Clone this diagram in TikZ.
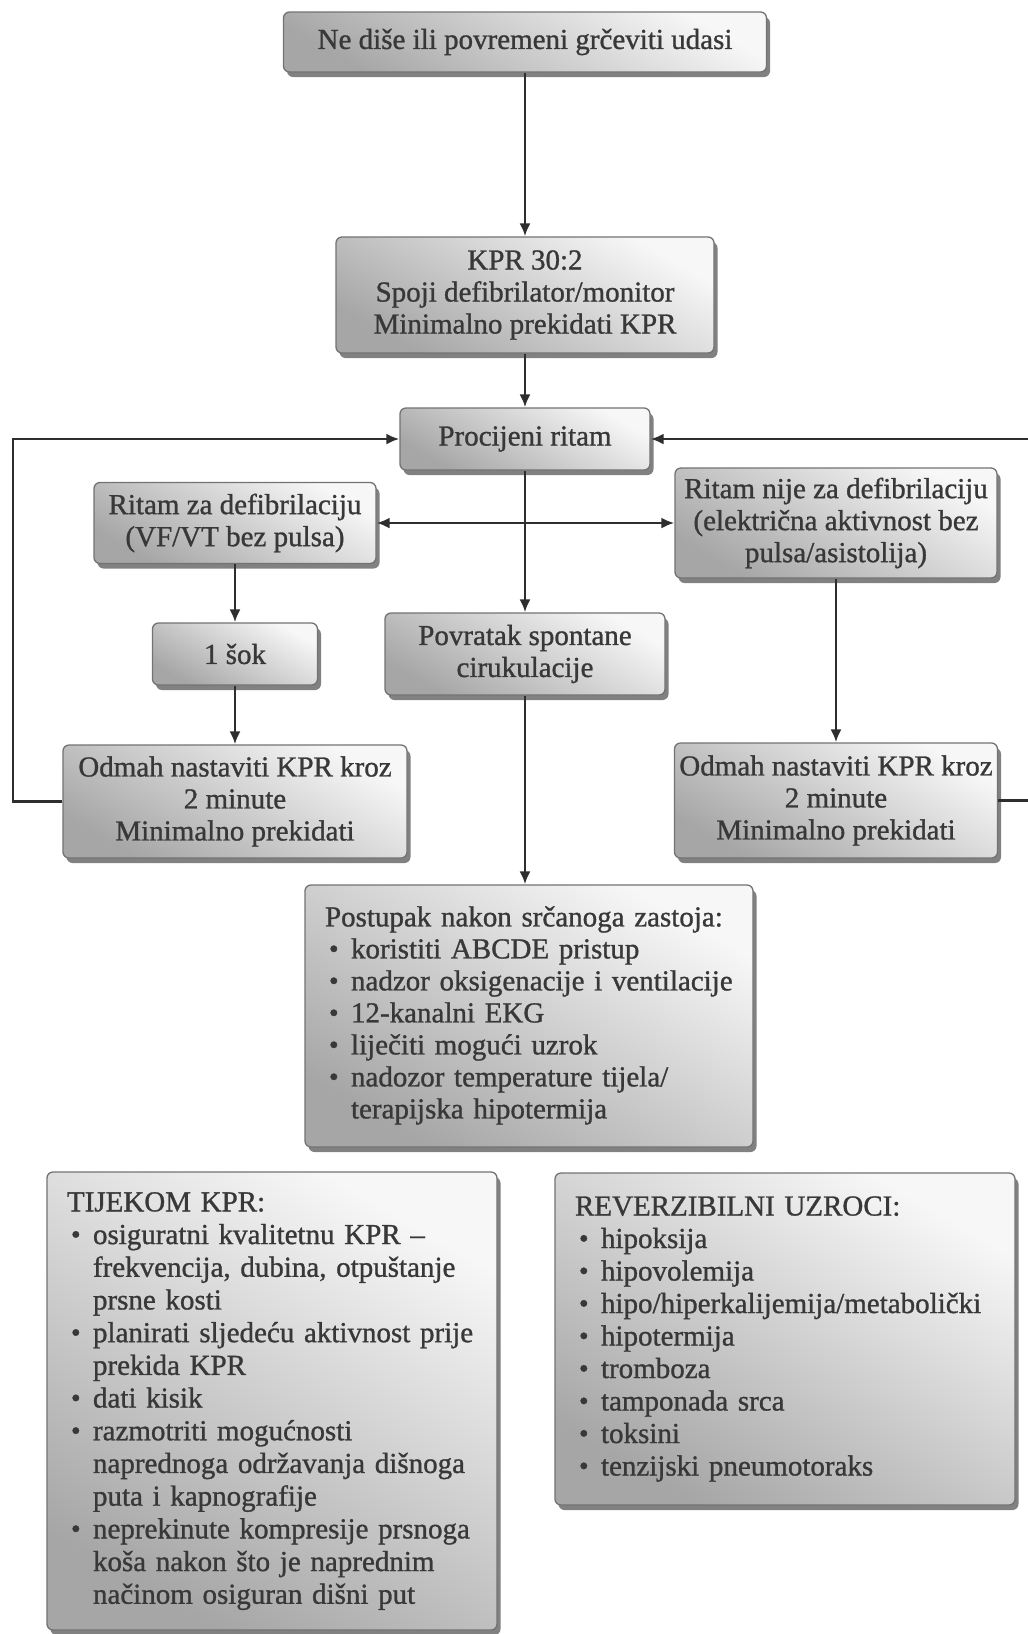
\documentclass[tikz,border=0pt]{standalone}
\usepackage{fontspec}
\setmainfont{Liberation Serif}
\newfontfamily\heavy{Liberation Serif}[UprightFeatures={FakeBold=1.0}]
\usetikzlibrary{arrows.meta,shadows}
\newcommand{\bul}{\makebox[26pt][l]{\hspace{4pt}\raisebox{0.5pt}{\scalebox{0.95}{\textbullet}}}}
\newcommand{\hd}[1]{\multicolumn{2}{@{}l@{}}{#1}}
\begin{document}
\begin{tikzpicture}[x=1pt,y=-1pt,
  box/.style={draw=black!55, line width=1.3pt, rounded corners=6pt,
    top color=black!3, bottom color=black!35, shading angle=-30,
    drop shadow={shadow xshift=3.5pt, shadow yshift=-5pt, fill=black!70, opacity=0.7},
    text=black!78, font=\heavy\fontsize{29}{32}\selectfont, align=center, inner sep=0pt},
  listbox/.style={box, align=left, inner xsep=20pt, inner ysep=0pt},
  conn/.style={line width=2.5pt, draw=black!82, ->},
  >={Latex[length=13pt,width=11pt]}
]
\useasboundingbox (0,0) rectangle (1028,1634);
\fill[white] (0,0) rectangle (1028,1634);
\renewcommand{\arraystretch}{1}

% boxes
\node[box, minimum width=483pt, minimum height=60pt] (top) at (525,42) {Ne diše ili povremeni grčeviti udasi};
\node[box, minimum width=378pt, minimum height=116pt] (kpr) at (525,295) {KPR 30:2\\Spoji defibrilator/monitor\\Minimalno prekidati KPR};
\node[box, minimum width=250pt, minimum height=62pt] (proc) at (525,439) {Procijeni ritam};
\node[box, minimum width=282pt, minimum height=81pt] (rzd) at (235,523) {Ritam za defibrilaciju\\(VF/VT bez pulsa)};
\node[box, minimum width=322pt, minimum height=110pt] (rnz) at (836,523) {Ritam nije za defibrilaciju\\(električna aktivnost bez\\pulsa/asistolija)};
\node[box, minimum width=165pt, minimum height=62pt] (sok) at (235,654) {1 šok};
\node[box, minimum width=280pt, minimum height=82pt] (povr) at (525,654) {Povratak spontane\\cirukulacije};
\node[box, minimum width=344pt, minimum height=113pt] (odL) at (235,801.5) {Odmah nastaviti KPR kroz\\2 minute\\Minimalno prekidati};
\node[box, minimum width=323pt, minimum height=115pt] (odR) at (836,800.5) {Odmah nastaviti KPR kroz\\2 minute\\Minimalno prekidati};

\node[listbox, text width=408pt, minimum height=262pt] (post) at (529,1016) {%
\begin{tabular}{@{}l@{}l@{}}
\hd{Postupak nakon srčanoga zastoja:}\\
\bul & koristiti ABCDE pristup\\
\bul & nadzor oksigenacije i ventilacije\\
\bul & 12-kanalni EKG\\
\bul & liječiti mogući uzrok\\
\bul & nadozor temperature tijela/\\
 & terapijska hipotermija
\end{tabular}};

\node[listbox, text width=410pt, minimum height=458pt, font=\heavy\fontsize{29}{32.7}\selectfont] (tij) at (272,1401) {%
\begin{tabular}{@{}l@{}l@{}}
\hd{TIJEKOM KPR:}\\
\bul & osiguratni kvalitetnu KPR –\\
 & frekvencija, dubina, otpuštanje\\
 & prsne kosti\\
\bul & planirati sljedeću aktivnost prije\\
 & prekida KPR\\
\bul & dati kisik\\
\bul & razmotriti mogućnosti\\
 & naprednoga održavanja dišnoga\\
 & puta i kapnografije\\
\bul & neprekinute kompresije prsnoga\\
 & koša nakon što je naprednim\\
 & načinom osiguran dišni put
\end{tabular}};

\node[listbox, text width=420pt, minimum height=332pt, font=\heavy\fontsize{29}{32.5}\selectfont] (rev) at (785,1339) {%
\begin{tabular}{@{}l@{}l@{}}
\hd{REVERZIBILNI UZROCI:}\\
\bul & hipoksija\\
\bul & hipovolemija\\
\bul & hipo/hiperkalijemija/metabolički\\
\bul & hipotermija\\
\bul & tromboza\\
\bul & tamponada srca\\
\bul & toksini\\
\bul & tenzijski pneumotoraks
\end{tabular}};

% connectors
\coordinate (lx) at (13,0);
\coordinate (rx) at (1040,0);
\draw[conn] (top.south) -- (kpr.north);
\draw[conn] (kpr.south) -- (proc.north);
\draw[conn] (proc.south) -- (povr.north);
\draw[conn] (povr.south) -- (povr.south |- post.north);
\draw[conn, <->] (rzd.east) -- (rnz.west);
\draw[conn] (rzd.south) -- (sok.north);
\draw[conn] (sok.south) -- (odL.north);
\draw[conn] (rnz.south) -- (odR.north);
\draw[conn] (odL.west) -- (odL.west -| lx) |- (proc.west);
\draw[conn] (odR.east) -- (odR.east -| rx) |- (proc.east);
\end{tikzpicture}
\end{document}
